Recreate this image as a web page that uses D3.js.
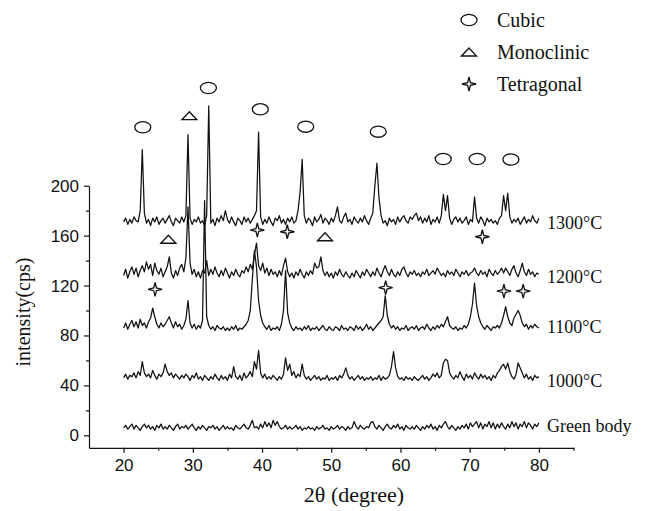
<!DOCTYPE html>
<html>
<head>
<meta charset="utf-8">
<script src="https://cdn.jsdelivr.net/npm/d3@7"></script>
<style>
  body { margin: 0; background: #fff; }
  svg text { fill: #111; }
</style>
</head>
<body>
<svg id="chart" width="650" height="511"></svg>
<script>
// XRD patterns, scanned from 20° to 80° (2θ) at a constant 0.3° step.
const twoThetaStart = 20;
const twoThetaStep = 0.3;

const pattern1300 = [
  171,174,169,173,170,175,172,171,180,229,
  178,170,173,168,174,171,175,169,172,174,
  170,173,176,171,168,174,172,170,175,171,
  176,241,174,169,173,171,175,170,172,168,
  176,264,170,173,168,174,171,176,172,180,
  173,170,175,171,168,174,172,169,175,171,
  174,170,173,176,180,243,175,169,173,170,
  175,171,168,174,172,176,170,173,169,174,
  171,175,170,172,180,195,221,176,170,174,
  172,168,175,171,173,177,170,174,172,169,
  174,171,176,183,172,170,175,178,171,173,
  169,175,172,170,174,171,176,172,169,174,
  178,200,218,190,176,170,172,168,174,171,
  173,169,175,171,174,176,172,170,175,173,
  176,178,172,175,170,174,171,176,169,173,
  171,175,170,176,193,180,192,174,169,173,
  175,171,174,170,172,175,169,173,171,191,
  174,170,175,172,168,174,171,173,170,172,
  169,174,176,192,180,194,175,170,173,171,
  174,169,172,175,170,173,171,176,172,170,
  174
];

const pattern1200 = [
  128,133,126,131,135,129,134,127,132,136,
  131,139,133,137,128,138,132,129,134,127,
  131,135,143,130,126,132,128,134,137,131,
  142,183,138,129,133,127,131,126,132,130,
  140,128,133,129,135,130,127,132,128,134,
  130,126,131,128,133,129,127,132,130,135,
  131,137,133,145,154,136,132,138,130,134,
  128,133,129,131,127,132,128,136,142,131,
  127,130,126,131,128,133,129,126,131,128,
  132,129,138,134,135,143,132,128,131,127,
  130,126,131,128,133,129,127,131,128,126,
  130,127,132,129,126,131,128,133,130,127,
  131,128,134,130,127,132,136,131,128,133,
  129,127,131,128,133,135,130,127,131,129,
  132,128,130,127,131,129,133,128,130,132,
  129,134,131,128,130,127,132,129,131,128,
  133,130,127,131,129,132,128,130,131,134,
  130,128,132,129,131,127,133,130,128,132,
  129,131,134,130,134,131,128,133,136,130,
  127,132,138,131,128,133,129,131,127,130,
  129
];

const pattern1100 = [
  86,90,85,89,92,87,91,86,93,88,
  90,86,91,94,102,95,89,86,90,87,
  89,92,95,90,86,91,87,89,85,88,
  93,108,90,86,89,85,88,86,92,188,
  95,88,85,87,84,88,86,85,87,84,
  86,84,87,85,88,84,86,85,87,89,
  92,100,125,148,135,108,96,90,87,85,
  88,84,86,85,87,84,89,100,132,98,
  90,86,84,87,85,86,84,87,85,88,
  84,86,85,87,84,86,88,85,84,87,
  85,84,87,86,84,88,85,86,84,87,
  86,84,88,85,87,84,86,89,85,87,
  84,86,88,90,92,95,112,96,89,86,
  88,85,87,84,86,85,88,84,86,87,
  85,88,84,86,87,85,89,86,84,87,
  85,88,86,89,87,91,95,88,86,85,
  87,84,86,85,88,86,89,95,105,122,
  104,95,90,87,85,88,86,84,87,86,
  88,86,90,96,103,95,90,88,94,97,
  100,96,90,87,89,85,88,86,89,87,
  86
];

const pattern1000 = [
  46,49,45,48,47,50,46,51,48,59,
  50,47,49,46,52,48,45,49,47,50,
  57,51,48,50,46,49,47,45,48,46,
  49,47,44,48,46,50,45,47,44,48,
  46,44,47,45,49,46,44,48,45,47,
  44,49,46,55,47,45,48,44,50,46,
  48,51,47,59,53,68,50,46,49,45,
  47,45,48,46,44,47,45,49,62,52,
  57,48,51,46,49,47,57,48,45,47,
  44,46,48,45,47,44,46,45,48,44,
  46,45,47,44,48,46,49,54,48,45,
  47,44,46,48,45,47,44,46,45,47,
  44,46,45,48,44,47,45,46,48,55,
  67,54,47,45,46,44,47,45,46,44,
  47,45,44,46,48,45,47,44,46,49,
  47,50,46,48,58,61,60,50,47,45,
  48,46,51,47,44,49,46,48,45,50,
  47,45,49,46,48,45,47,44,48,46,
  50,52,55,57,53,58,51,47,45,49,
  58,54,50,46,49,45,47,44,48,46,
  47
];

const patternGreen = [
  6,8,5,7,9,5,8,6,4,7,
  9,6,8,5,7,4,8,6,9,5,
  7,5,8,6,4,7,9,5,7,6,
  8,5,7,9,6,4,7,5,8,6,
  4,7,6,8,5,7,4,6,8,5,
  7,5,6,4,8,6,5,7,9,6,
  5,8,12,6,7,5,9,6,11,7,
  10,6,12,8,11,7,5,6,8,5,
  7,5,6,8,5,7,4,6,5,7,
  5,6,4,7,5,6,8,5,6,4,
  7,5,6,8,5,7,6,4,7,5,
  6,11,7,5,8,6,5,7,6,10,
  11,7,5,8,6,4,7,9,6,5,
  8,6,9,5,7,4,8,6,5,7,
  5,8,6,4,7,5,8,6,9,5,
  7,4,8,6,9,11,7,5,8,6,
  4,7,5,8,6,9,5,10,7,9,
  11,6,10,5,9,7,11,6,10,5,
  9,6,10,7,5,9,6,11,7,10,
  5,9,7,11,6,10,8,5,9,7,
  10
];

const seriesLabels = ["1300\u00B0C", "1200\u00B0C", "1100\u00B0C", "1000\u00B0C", "Green body"];
const seriesLabelLevels = [165, 122, 82, 39, 3];

// phase reflections marked above the patterns: [2θ, intensity]
const cubicMarks = [[22.77,246.8],[32.25,278.3],[39.75,261.2],[46.31,247.3],[56.79,243.3],[66.18,221.4],[71.09,221.4],[75.96,221]];
const monoclinicMarks = [[29.5,256.1],[26.47,157.1],[49.1,159.1]];
const tetragonalMarks = [[39.32,164.5],[43.65,163.1],[71.83,159.1],[24.55,117],[57.86,118.3],[74.95,115.6],[77.73,115.6]];

const legendItems = ["Cubic", "Monoclinic", "Tetragonal"];

const xTicks = [20, 30, 40, 50, 60, 70, 80];
const xMinorTicks = [25, 35, 45, 55, 65, 75, 85];
const yTicks = [0, 40, 80, 120, 160, 200];
const yMinorTicks = [20, 60, 100, 140, 180];

const svg = d3.select("#chart");
const x = d3.scaleLinear().domain([15, 85]).range([89, 573.5]);
const y = d3.scaleLinear().domain([-10, 200]).range([447.8, 185.7]);

const ink = "#111";
const tickFont = "'Liberation Sans', Arial, sans-serif";
const serif = "'Liberation Serif', 'Times New Roman', serif";

// axes
const gx = svg.append("g").attr("transform", `translate(0,${y(-10)})`)
  .call(d3.axisBottom(x).tickValues(xTicks).tickSize(5).tickSizeOuter(0).tickPadding(6).tickFormat(d3.format("d")));
svg.append("g").attr("transform", `translate(0,${y(-10)})`)
  .call(d3.axisBottom(x).tickValues(xMinorTicks).tickSize(3).tickSizeOuter(0).tickFormat(""))
  .select(".domain").remove();
const gy = svg.append("g").attr("transform", `translate(${x(15)},0)`)
  .call(d3.axisLeft(y).tickValues(yTicks).tickSize(5).tickSizeOuter(0).tickPadding(5).tickFormat(d3.format("d")));
svg.append("g").attr("transform", `translate(${x(15)},0)`)
  .call(d3.axisLeft(y).tickValues(yMinorTicks).tickSize(3).tickSizeOuter(0).tickFormat(""))
  .select(".domain").remove();

svg.selectAll(".domain, .tick line").attr("stroke", ink).attr("stroke-width", 1.2);
gx.selectAll("text").attr("font-family", tickFont).attr("font-size", 17).attr("fill", "#222");
gy.selectAll("text").attr("font-family", tickFont).attr("font-size", 17).attr("fill", "#222");

// patterns
const line = d3.line()
  .x((d, i) => x(twoThetaStart + i * twoThetaStep))
  .y(d => y(d));

const patterns = [pattern1300, pattern1200, pattern1100, pattern1000, patternGreen];
svg.append("g").selectAll("path").data(patterns).join("path")
  .attr("d", line)
  .attr("fill", "none")
  .attr("stroke", ink)
  .attr("stroke-width", 1.25)
  .attr("stroke-linejoin", "round");

// series labels
svg.append("g").selectAll("text").data(seriesLabels).join("text")
  .attr("x", 547)
  .attr("y", (d, i) => y(seriesLabelLevels[i]))
  .attr("font-family", serif)
  .attr("font-size", 18)
  .text(d => d);

// marker shapes
function drawCircle(g) {
  g.append("ellipse").attr("rx", 8).attr("ry", 5.6);
}
function drawTriangle(g) {
  g.append("path").attr("d", "M-7.5,4 L0,-4 L7.5,4 Z");
}
function drawStar(g) {
  const r = 7, w = 1.4;
  const pts = [[0,-r],[w,-w],[r,0],[w,w],[0,r],[-w,w],[-r,0],[-w,-w]];
  g.append("path").attr("d", "M" + pts.map(p => p.join(",")).join("L") + "Z");
}
const markGroups = [
  [cubicMarks, drawCircle],
  [monoclinicMarks, drawTriangle],
  [tetragonalMarks, drawStar]
];
const marks = svg.append("g").attr("fill", "none").attr("stroke", ink).attr("stroke-width", 1.3);
markGroups.forEach(([pts, draw]) => {
  pts.forEach(p => {
    const g = marks.append("g").attr("transform", `translate(${x(p[0])},${y(p[1])})`);
    draw(g);
  });
});

// legend
const legend = svg.append("g");
const legendRows = [20, 52, 84];
legendItems.forEach((name, i) => {
  const g = legend.append("g").attr("transform", `translate(469,${legendRows[i]})`)
    .attr("fill", "none").attr("stroke", ink).attr("stroke-width", 1.3);
  markGroups[i][1](g);
  legend.append("text")
    .attr("x", 497).attr("y", legendRows[i] + 7)
    .attr("font-family", serif).attr("font-size", 20)
    .text(name);
});

// axis titles
svg.append("text")
  .attr("transform", `translate(30,312) rotate(-90)`)
  .attr("text-anchor", "middle")
  .attr("font-family", serif).attr("font-size", 20)
  .text("intensity(cps)");
svg.append("text")
  .attr("x", 354).attr("y", 502)
  .attr("text-anchor", "middle")
  .attr("font-family", serif).attr("font-size", 22)
  .text("2\u03B8 (degree)");
</script>
</body>
</html>
